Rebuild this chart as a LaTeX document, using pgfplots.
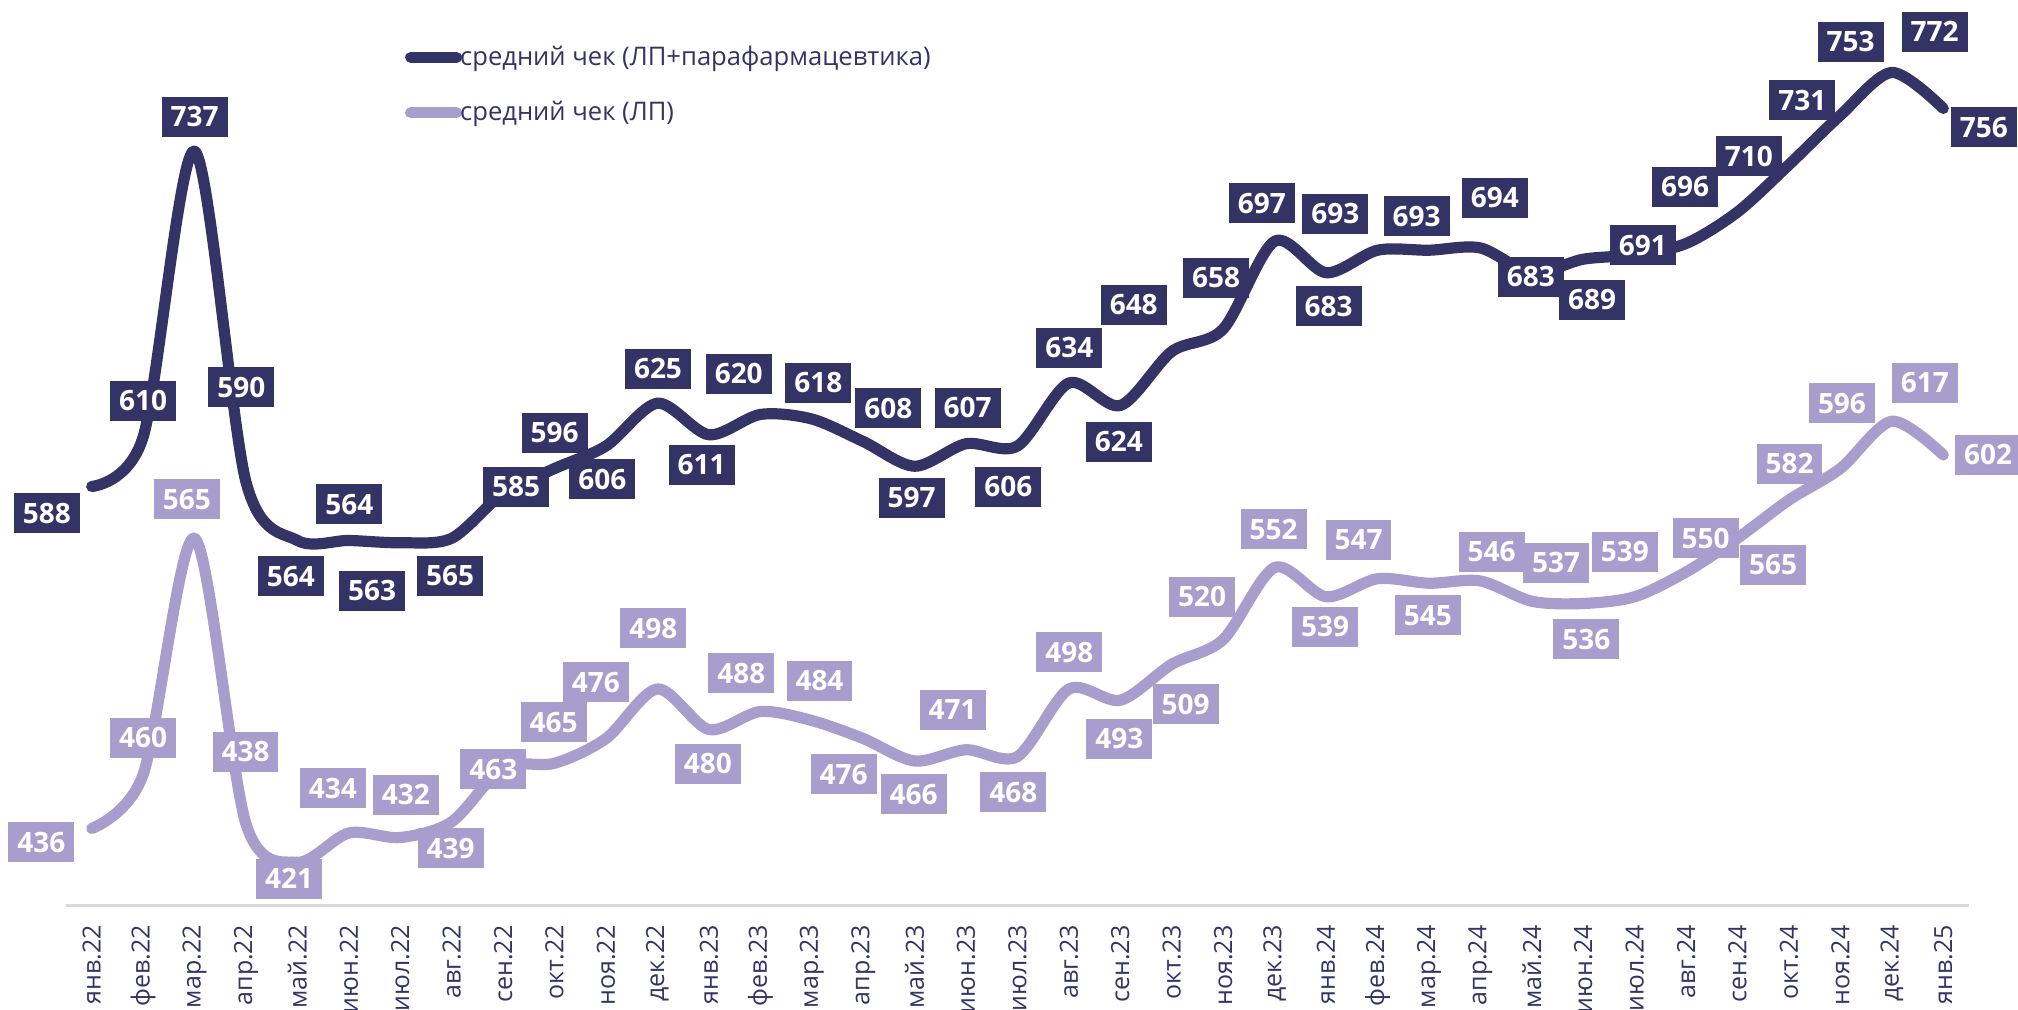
\documentclass[border=0pt]{standalone}
\usepackage{fontspec}
\setmainfont{Open Sans}
\usepackage{pgfplots}
\usepackage{pgfplotstable}
\pgfplotsset{compat=1.18}
\definecolor{cDark}{RGB}{52,51,102}
\definecolor{cLight}{RGB}{167,158,205}
\definecolor{cAxis}{RGB}{217,217,217}

\pgfplotstableread{
x v lx ly
0 588 -0.87 576.2
1 610 1.00 626.0
2 737 2.00 752.4
3 590 2.91 632.2
4 564 3.87 548.2
5 564 5.01 580.0
6 563 5.45 541.6
7 565 6.97 548.4
8 585 8.25 587.8
9 596 9.00 611.8
10 606 9.93 591.3
11 625 11.01 640.4
12 611 11.86 597.6
13 620 12.58 638.2
14 618 14.13 634.0
15 608 15.49 622.7
16 597 15.94 583.1
17 607 17.03 623.1
18 606 17.82 587.8
19 634 19.01 649.6
20 624 19.97 607.8
21 648 20.26 668.7
22 658 21.86 680.7
23 697 22.75 713.8
24 683 24.05 668.0
25 693 24.18 709.3
26 693 25.76 708.0
27 694 27.28 716.4
28 683 27.98 681.1
29 689 29.17 670.9
30 691 30.16 695.1
31 696 30.98 721.1
32 710 32.22 734.7
33 731 33.26 759.6
34 753 34.20 785.6
35 772 35.83 790.0
36 756 36.79 747.6
}\darktable

\pgfplotstableread{
x v lx ly
0 436 -0.98 429.8
1 460 1.00 476.4
2 565 1.85 582.4
3 438 2.99 470.2
4 421 3.84 413.6
5 434 4.69 453.8
6 432 6.11 451.1
7 439 6.98 427.3
8 463 7.81 462.4
9 465 8.98 483.3
10 476 9.80 501.1
11 498 10.92 525.1
12 480 11.98 464.7
13 488 12.63 505.1
14 484 14.15 501.6
15 476 14.62 460.2
16 466 15.98 451.3
17 471 16.74 488.7
18 468 17.92 452.2
19 498 19.01 514.4
20 493 19.98 475.8
21 509 21.27 491.3
22 520 21.59 539.1
23 552 22.98 568.9
24 539 23.98 525.6
25 547 24.63 564.4
26 545 25.98 530.7
27 546 27.22 559.1
28 537 28.47 554.0
29 536 29.06 520.2
30 539 29.81 558.9
31 550 31.38 564.9
32 565 32.69 553.3
33 582 33.01 598.2
34 596 34.03 624.9
35 617 35.64 634.2
36 602 36.87 602.0
}\lighttable

\begin{document}
\begin{tikzpicture}
\useasboundingbox (0pt,0pt) rectangle (1009pt,504.5pt);
\begin{axis}[
  at={(33pt,52pt)}, anchor=south west,
  scale only axis,
  width=951.5pt, height=452.5pt,
  xmin=-0.5, xmax=36.5,
  ymin=402, ymax=804.2,
  clip=false,
  axis y line=none,
  axis x line*=bottom,
  x axis line style={cAxis, line width=1.5pt},
  ytick=\empty,
  xtick={0,...,36},
  xticklabels={янв.22,фев.22,мар.22,апр.22,май.22,июн.22,июл.22,авг.22,сен.22,окт.22,ноя.22,дек.22,янв.23,фев.23,мар.23,апр.23,май.23,июн.23,июл.23,авг.23,сен.23,окт.23,ноя.23,дек.23,янв.24,фев.24,мар.24,апр.24,май.24,июн.24,июл.24,авг.24,сен.24,окт.24,ноя.24,дек.24,янв.25},
  major tick length=0pt,
  xticklabel style={rotate=90, anchor=east, inner sep=0pt, text=cDark, font=\fontsize{12.5}{15}\selectfont},
  xticklabel shift=10pt,
  legend style={at={(axis description cs:0.178,0.906)}, anchor=west, draw=none, fill=none,
    inner sep=0pt, column sep=-1pt, row sep=16.5pt,
    nodes={inner sep=0pt, text=cDark, font=\fontsize{12.8}{15}\selectfont}},
  legend cell align=left,
  legend image code/.code={\draw[#1, line width=5.6pt, line cap=round] (0pt,0pt) -- (22.9pt,0pt);},
]
\addplot[cDark, line width=5.6pt, smooth, line cap=round, line join=round] table[x=x, y=v] {\darktable};
\addlegendentry{средний чек (ЛП+парафармацевтика)}
\addplot[cLight, line width=5.6pt, smooth, line cap=round, line join=round] table[x=x, y=v] {\lighttable};
\addlegendentry{средний чек (ЛП)}

\addplot[draw=none, forget plot, nodes near coords, point meta=explicit symbolic,
  every node near coord/.append style={anchor=center, fill=cDark, text=white,
    inner xsep=4.5pt, inner ysep=5pt, text height=10pt, text depth=0pt,
    font=\fontsize{14}{14}\selectfont\bfseries}]
  table[x=lx, y=ly, meta=v] {\darktable};
\addplot[draw=none, forget plot, nodes near coords, point meta=explicit symbolic,
  every node near coord/.append style={anchor=center, fill=cLight, text=white,
    inner xsep=4.5pt, inner ysep=5pt, text height=10pt, text depth=0pt,
    font=\fontsize{14}{14}\selectfont\bfseries}]
  table[x=lx, y=ly, meta=v] {\lighttable};
\end{axis}
\end{tikzpicture}
\end{document}
